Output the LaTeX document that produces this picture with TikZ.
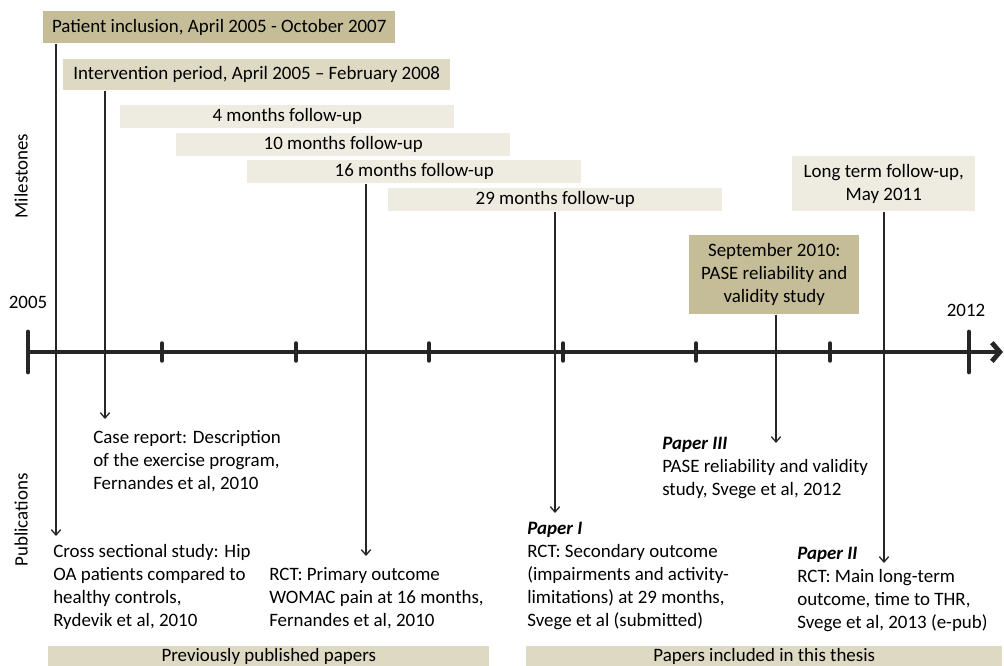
\documentclass[tikz,border=0pt]{standalone}
\usepackage{fontspec}
\setmainfont{Carlito}
\usetikzlibrary{arrows.meta, positioning, calc}
\usepackage{xcolor}
\definecolor{tandark}{HTML}{C4BD97}
\definecolor{tanmid}{HTML}{DDD9C3}
\definecolor{tanlight}{HTML}{EEECE1}
\definecolor{axisgray}{HTML}{262626}

\begin{document}
\begin{tikzpicture}[
  x = 0.75pt, y = -0.75pt,
  font = \fontsize{14.2}{17.3}\selectfont,
  %
  % ── Styles ───────────────────────────────────────────────────────
  milestone/.style = {anchor=north west, inner sep=0pt, align=center},
  pub/.style       = {anchor=north west, inner sep=0pt, align=left},
  conn/.style      = {-{Straight Barb[length=4pt, width=7pt]},
                      line width=1pt, draw=axisgray},
  axis/.style      = {-{Straight Barb[length=6pt, width=14pt]},
                      line width=3.6pt, draw=axisgray},
  bigtick/.style   = {line width=3.6pt, draw=axisgray, line cap=round},
  smalltick/.style = {line width=2.6pt, draw=axisgray, line cap=round},
]
\useasboundingbox (0,0) rectangle (1004,665);

%% ═══════════════════════════════════════════════════════════════════
%% MILESTONES — bars above the time axis
%% ═══════════════════════════════════════════════════════════════════

\node[milestone, fill=tandark, minimum width=264pt, minimum height=24pt]
  (incl) at (43,11)
  {Patient inclusion, April 2005 - October 2007};

\node[milestone, fill=tanmid, minimum width=290.25pt, minimum height=23.25pt]
  (interv) at (63,59)
  {Intervention period, April 2005 -- February 2008};

\node[milestone, fill=tanlight, minimum width=250.5pt, minimum height=17.25pt]
  (fu4) at (120,105) {4 months follow-up};
\node[milestone, fill=tanlight, minimum width=250.5pt, minimum height=17.25pt]
  (fu10) at (176,133) {10 months follow-up};
\node[milestone, fill=tanlight, minimum width=250.5pt, minimum height=17.25pt]
  (fu16) at (247,160) {16 months follow-up};
\node[milestone, fill=tanlight, minimum width=250.5pt, minimum height=17.25pt]
  (fu29) at (388,188) {29 months follow-up};

\node[milestone, fill=tanlight, minimum width=137.25pt, minimum height=41.25pt]
  (longterm) at (792,156)
  {Long term follow-up,\\May 2011};

\node[milestone, fill=tandark, minimum width=127.5pt, minimum height=59.25pt]
  (sept) at (689,235)
  {September 2010:\\PASE reliability and\\validity study};

%% ── Side labels ──────────────────────────────────────────────────
\node[rotate=90] (lbl-mile) at (21,176) {Milestones};
\node[rotate=90] (lbl-pub)  at (21,520) {Publications};

%% ═══════════════════════════════════════════════════════════════════
%% TIME AXIS — 2005 to 2012
%% ═══════════════════════════════════════════════════════════════════

\coordinate (t-start) at (28,352);
\coordinate (t-end)   at (1003,352);

\draw[axis] (t-start) -- (t-end);
\draw[bigtick] (28,332) -- (28,372);
\draw[bigtick] (969,332) -- (969,372);
\foreach \x in {162,296,429,563,696,830}
  \draw[smalltick] (\x,343) -- (\x,361);

\node (y2005) at (28,302) {2005};
\node (y2012) at (966,310) {2012};

%% ═══════════════════════════════════════════════════════════════════
%% PUBLICATIONS — texts below the time axis
%% ═══════════════════════════════════════════════════════════════════

\node[pub] (pub-case) at (93,430)
  {Case report: Description\\of the exercise program,\\Fernandes et al, 2010};

\node[pub] (pub-cross) at (53,544)
  {Cross sectional study: Hip\\OA patients compared to\\healthy controls,\\Rydevik et al, 2010};

\node[pub] (pub-rct) at (269,567)
  {RCT: Primary outcome\\WOMAC pain at 16 months,\\Fernandes et al, 2010};

\node[pub] (paper1) at (527,522)
  {\textbf{\textit{Paper I}}\\RCT: Secondary outcome\\(impairments and activity-\\limitations) at 29 months,\\Svege et al (submitted)};

\node[pub] (paper3) at (662,437)
  {\textbf{\textit{Paper III}}\\PASE reliability and validity\\study, Svege et al, 2012};

\node[pub] (paper2) at (797,547)
  {\textbf{\textit{Paper II}}\\RCT: Main long-term\\outcome, time to THR,\\Svege et al, 2013 (e-pub)};

%% ── Group bars at the bottom ─────────────────────────────────────
\node[milestone, fill=tanmid, minimum width=330.75pt, minimum height=15.75pt]
  (prev) at (48,646) {Previously published papers};
\node[milestone, fill=tanmid, minimum width=357pt, minimum height=15.75pt]
  (thesis) at (526,646) {Papers included in this thesis};

%% ── Arrows: milestone -> publication ─────────────────────────────
\coordinate (e-cross) at (56,536);
\coordinate (e-case)  at (105,419);
\coordinate (e-rct)   at (366,556);
\coordinate (e-p1)    at (555,513);
\coordinate (e-p3)    at (776,443);
\coordinate (e-p2)    at (884,563);

\draw[conn] (incl.south -| e-cross)   -- (e-cross);
\draw[conn] (interv.south -| e-case)  -- (e-case);
\draw[conn] (fu16.south -| e-rct)     -- (e-rct);
\draw[conn] (fu29.south -| e-p1)      -- (e-p1);
\draw[conn] (sept.south -| e-p3)      -- (e-p3);
\draw[conn] (longterm.south -| e-p2)  -- (e-p2);

\end{tikzpicture}
\end{document}
